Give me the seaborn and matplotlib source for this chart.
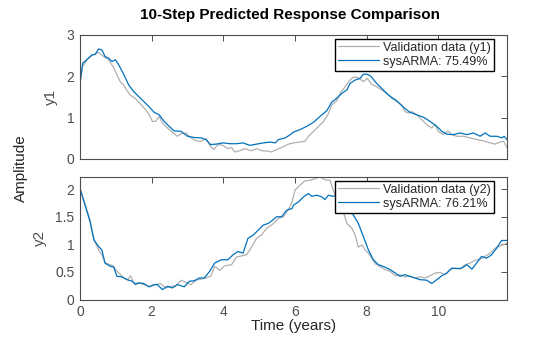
import numpy as np
import pandas as pd
import matplotlib
matplotlib.use("Agg")
import matplotlib.pyplot as plt
import seaborn as sns

# ---- data ----
t_val1 = [0.00, 0.075, 0.19, 0.33, 0.52, 0.66, 0.80, 0.94, 1.03, 1.13, 1.22, 1.31, 1.41, 1.55, 1.69, 1.83,
          1.92, 2.02, 2.11, 2.21, 2.30, 2.44, 2.58, 2.72, 2.82, 2.96, 3.10, 3.24, 3.38, 3.52, 3.64, 3.74,
          3.85, 3.99, 4.13, 4.23, 4.32, 4.46, 4.60, 4.79, 4.93, 5.07, 5.26, 5.35, 5.49, 5.63, 5.82, 5.96,
          6.14, 6.28, 6.38, 6.52, 6.66, 6.80, 6.93, 7.03, 7.17, 7.26, 7.40, 7.54, 7.63, 7.77, 7.91, 8.02,
          8.14, 8.28, 8.42, 8.56, 8.70, 8.84, 8.98, 9.07, 9.17, 9.26, 9.40, 9.54, 9.68, 9.82, 9.91, 10.00,
          10.14, 10.28, 10.38, 10.52, 10.70, 10.89, 11.08, 11.26, 11.45, 11.59, 11.73, 11.82, 11.92]
y_val1 = [1.83, 2.24, 2.40, 2.50, 2.58, 2.48, 2.40, 2.21, 2.04, 1.86, 1.79, 1.66, 1.54, 1.46, 1.33, 1.19,
          1.09, 0.91, 0.91, 1.03, 0.87, 0.75, 0.65, 0.55, 0.61, 0.63, 0.51, 0.44, 0.43, 0.49, 0.31, 0.23,
          0.35, 0.33, 0.25, 0.28, 0.17, 0.20, 0.25, 0.20, 0.25, 0.20, 0.19, 0.17, 0.23, 0.28, 0.36, 0.39,
          0.41, 0.43, 0.55, 0.67, 0.79, 0.91, 1.09, 1.31, 1.41, 1.59, 1.75, 1.91, 1.98, 1.97, 1.87, 1.95,
          1.81, 1.75, 1.67, 1.59, 1.47, 1.39, 1.31, 1.15, 1.11, 1.15, 1.07, 0.95, 0.83, 0.75, 0.84, 0.67,
          0.59, 0.68, 0.59, 0.55, 0.55, 0.51, 0.47, 0.44, 0.39, 0.36, 0.41, 0.43, 0.28]

t_arma1 = [0.00, 0.075, 0.19, 0.33, 0.42, 0.52, 0.61, 0.70, 0.80, 0.89, 0.99, 1.08, 1.22, 1.36, 1.50, 1.64,
           1.78, 1.92, 2.07, 2.21, 2.35, 2.49, 2.63, 2.82, 3.00, 3.19, 3.38, 3.52, 3.64, 3.80, 3.99, 4.18,
           4.37, 4.55, 4.74, 4.93, 5.12, 5.31, 5.45, 5.54, 5.73, 5.87, 5.96, 6.14, 6.33, 6.52, 6.70, 6.89,
           7.03, 7.17, 7.31, 7.45, 7.54, 7.68, 7.82, 7.91, 8.02, 8.12, 8.28, 8.42, 8.56, 8.70, 8.84, 9.03,
           9.21, 9.40, 9.59, 9.77, 9.96, 10.10, 10.24, 10.42, 10.61, 10.80, 10.98, 11.17, 11.31, 11.45,
           11.64, 11.78, 11.84, 11.92]
y_arma1 = [1.83, 2.32, 2.40, 2.52, 2.53, 2.66, 2.64, 2.48, 2.44, 2.36, 2.40, 2.28, 2.05, 1.79, 1.63, 1.51,
           1.39, 1.27, 1.13, 1.07, 0.91, 0.79, 0.68, 0.67, 0.55, 0.52, 0.51, 0.47, 0.35, 0.36, 0.39, 0.37,
           0.37, 0.39, 0.33, 0.36, 0.39, 0.41, 0.39, 0.47, 0.51, 0.59, 0.65, 0.71, 0.79, 0.89, 1.03, 1.17,
           1.38, 1.47, 1.59, 1.67, 1.83, 1.91, 1.95, 2.05, 2.05, 2.00, 1.83, 1.71, 1.59, 1.49, 1.41, 1.25,
           1.13, 1.07, 1.01, 0.91, 0.79, 0.67, 0.60, 0.59, 0.63, 0.59, 0.63, 0.55, 0.63, 0.55,
           0.55, 0.51, 0.55, 0.47]

t_val2 = [0.00, 0.14, 0.28, 0.39, 0.52, 0.61, 0.70, 0.85, 0.94, 1.03, 1.13, 1.22, 1.33, 1.41, 1.50, 1.64,
          1.78, 1.97, 2.11, 2.25, 2.39, 2.54, 2.68, 2.82, 2.96, 3.10, 3.24, 3.38, 3.52, 3.66, 3.76, 3.90,
          4.04, 4.23, 4.37, 4.51, 4.65, 4.79, 4.93, 5.07, 5.21, 5.35, 5.54, 5.68, 5.82, 5.92, 6.00, 6.14,
          6.28, 6.42, 6.56, 6.70, 6.84, 6.98, 7.07, 7.21, 7.35, 7.45, 7.59, 7.68, 7.77, 7.87, 7.96, 8.05,
          8.14, 8.24, 8.37, 8.52, 8.66, 8.80, 8.93, 9.07, 9.21, 9.35, 9.49, 9.63, 9.77, 9.91, 10.05, 10.19,
          10.33, 10.47, 10.61, 10.75, 10.89, 11.03, 11.17, 11.31, 11.45, 11.59, 11.73, 11.92]
y_val2 = [2.01, 1.74, 1.44, 1.08, 0.90, 0.81, 0.66, 0.63, 0.60, 0.51, 0.45, 0.39, 0.36, 0.43, 0.30, 0.30,
          0.27, 0.23, 0.27, 0.29, 0.21, 0.24, 0.25, 0.35, 0.31, 0.27, 0.35, 0.37, 0.39, 0.43, 0.60, 0.53,
          0.61, 0.63, 0.77, 0.79, 0.81, 0.95, 1.11, 1.17, 1.29, 1.35, 1.47, 1.50, 1.63, 1.77, 1.98, 2.07,
          2.15, 2.16, 2.19, 2.23, 2.17, 2.16, 1.98, 1.77, 1.59, 1.38, 1.29, 1.17, 0.95, 0.99, 0.90, 0.84,
          0.75, 0.65, 0.60, 0.54, 0.51, 0.43, 0.45, 0.41, 0.42, 0.39, 0.41, 0.39, 0.43, 0.48, 0.49, 0.45,
          0.54, 0.57, 0.55, 0.63, 0.66, 0.71, 0.73, 0.78, 0.84, 0.93, 0.97, 1.02]

t_arma2 = [0.00, 0.14, 0.28, 0.39, 0.52, 0.61, 0.70, 0.85, 0.94, 1.03, 1.17, 1.31, 1.46, 1.55, 1.64, 1.78,
           1.92, 2.07, 2.16, 2.30, 2.44, 2.58, 2.72, 2.91, 3.05, 3.19, 3.33, 3.47, 3.62, 3.76, 3.94, 4.13,
           4.27, 4.41, 4.55, 4.69, 4.84, 4.98, 5.12, 5.26, 5.40, 5.49, 5.63, 5.77, 5.92, 5.96, 6.10, 6.24,
           6.38, 6.47, 6.61, 6.75, 6.84, 6.93, 7.07, 7.21, 7.35, 7.49, 7.63, 7.77, 7.91, 8.05, 8.19, 8.33,
           8.47, 8.66, 8.80, 8.93, 9.07, 9.21, 9.35, 9.49, 9.68, 9.82, 9.96, 10.10, 10.24, 10.38, 10.52,
           10.66, 10.80, 10.94, 11.07, 11.21, 11.35, 11.49, 11.63, 11.77, 11.92]
y_arma2 = [2.01, 1.71, 1.41, 1.08, 0.96, 0.90, 0.66, 0.60, 0.59, 0.42, 0.41, 0.36, 0.33, 0.27, 0.30, 0.29,
           0.23, 0.27, 0.27, 0.18, 0.24, 0.21, 0.27, 0.23, 0.33, 0.34, 0.39, 0.39, 0.51, 0.66, 0.72, 0.72,
           0.81, 0.87, 0.84, 1.11, 1.17, 1.26, 1.35, 1.38, 1.45, 1.50, 1.50, 1.62, 1.65, 1.71, 1.77, 1.86,
           1.92, 1.87, 1.89, 1.86, 1.81, 1.89, 1.87, 1.89, 1.74, 1.62, 1.53, 1.38, 1.14, 0.90, 0.72, 0.63,
           0.60, 0.54, 0.48, 0.42, 0.45, 0.42, 0.39, 0.36, 0.35, 0.29, 0.36, 0.43, 0.48, 0.57, 0.56,
           0.57, 0.63, 0.55, 0.66, 0.78, 0.75, 0.81, 0.93, 1.07, 1.07]

labels_top = ["Validation data (y1)", "sysARMA: 75.49%"]
labels_bot = ["Validation data (y2)", "sysARMA: 76.21%"]
xticks = [0, 2, 4, 6, 8, 10]
yticks_top = [0, 1, 2, 3]
yticks_bot = [0, 0.5, 1, 1.5, 2]
ytick_labels_bot = ["0", "0.5", "1", "1.5", "2"]

# ---- style ----
sns.set_style("white")
plt.rcParams["font.family"] = ["Liberation Sans", "DejaVu Sans"]
GRAY = "#b0b0b0"
BLUE = "#0072BD"
AXC = "#4d4d4d"
TXT = "#262626"

fig = plt.figure(figsize=(5.6, 3.37), dpi=100)
ax1 = fig.add_axes([80 / 560, 1 - 159 / 337, 427 / 560, 124 / 337])
ax2 = fig.add_axes([80 / 560, 1 - 299.5 / 337, 427 / 560, 122.5 / 337])

df1 = pd.concat([
    pd.DataFrame({"t": t_val1, "y": y_val1, "s": labels_top[0]}),
    pd.DataFrame({"t": t_arma1, "y": y_arma1, "s": labels_top[1]}),
])
df2 = pd.concat([
    pd.DataFrame({"t": t_val2, "y": y_val2, "s": labels_bot[0]}),
    pd.DataFrame({"t": t_arma2, "y": y_arma2, "s": labels_bot[1]}),
])

for ax, df, labs in [(ax1, df1, labels_top), (ax2, df2, labels_bot)]:
    sns.lineplot(data=df, x="t", y="y", hue="s", hue_order=labs,
                 palette=[GRAY, BLUE], estimator=None, linewidth=0.9, ax=ax, legend=False)
    ax.set_xlim(0, 11.92)
    ax.set_xticks(xticks)
    ax.tick_params(direction="in", length=4, width=0.7, colors=AXC, labelcolor=AXC,
                   labelsize=10, top=True, right=True, pad=4)
    for sp in ax.spines.values():
        sp.set_color(AXC)
        sp.set_linewidth(0.8)
        sp.set_visible(True)
    ax.set_xlabel("")
    leg = ax.legend(handles=ax.lines[:2], labels=labs, loc="upper right",
                    bbox_to_anchor=(0.97, 0.97), borderaxespad=0, fontsize=9,
                    frameon=True, fancybox=False, framealpha=1, edgecolor="black",
                    handlelength=3.3, handletextpad=0.35, labelspacing=0.15,
                    borderpad=0.25)
    leg.get_frame().set_linewidth(1.0)
    for txt in leg.get_texts():
        txt.set_color(TXT)

ax1.set_ylim(0, 3)
ax1.set_yticks(yticks_top)
ax1.set_xticklabels([])
ax1.set_ylabel("y1", fontsize=11, color=AXC, labelpad=6)

ax2.set_ylim(0, 2.22)
ax2.set_yticks(yticks_bot)
ax2.set_yticklabels(ytick_labels_bot)
ax2.set_ylabel("y2", fontsize=11, color=AXC, labelpad=6)
ax2.set_xlabel("Time (years)", fontsize=11, color=TXT, labelpad=0)

fig.text(0.518, 0.955, "10-Step Predicted Response Comparison", ha="center", va="center",
         fontsize=11, fontweight="bold", color="black")
fig.text(0.038, 0.50, "Amplitude", rotation=90, ha="center", va="center",
         fontsize=11, color=TXT)

fig.savefig("out.png", dpi=100)
